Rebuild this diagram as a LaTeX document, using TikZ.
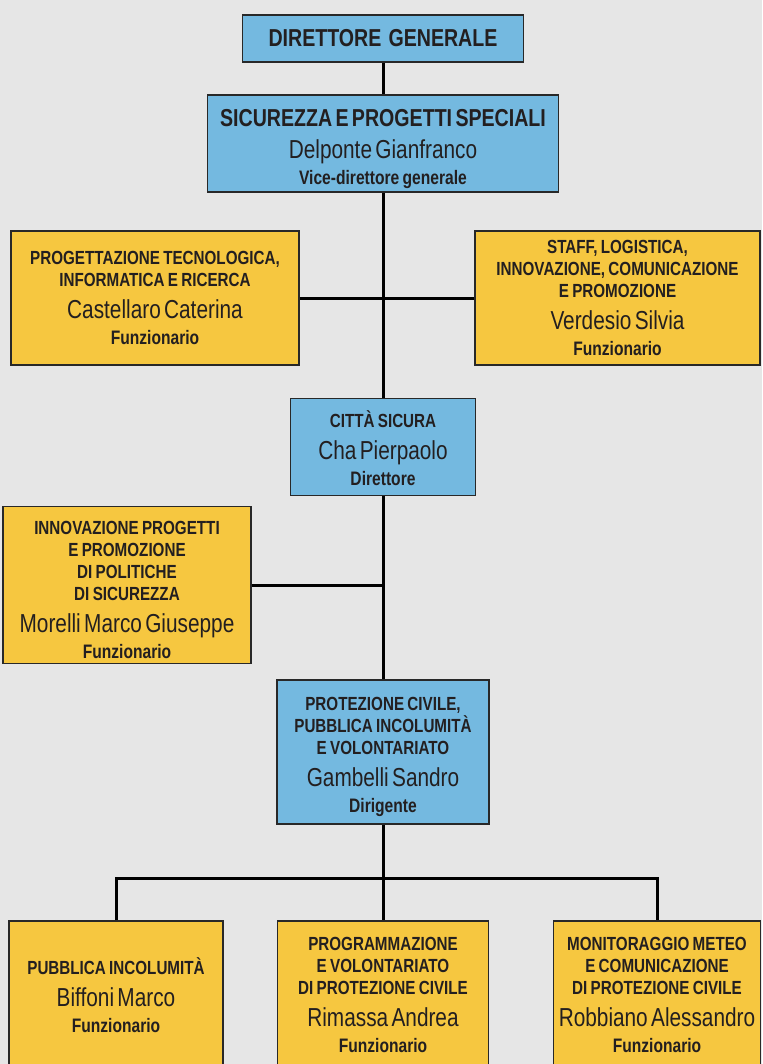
\documentclass[tikz,border=0pt]{standalone}
\usepackage{fontspec}
\setmainfont{Liberation Sans}[FakeStretch=0.8, WordSpace=1.3]

\definecolor{bggray}{RGB}{230,230,230}
\definecolor{bluefill}{RGB}{116,185,224}
\definecolor{yellowfill}{RGB}{246,199,64}
\definecolor{boxline}{RGB}{40,40,40}
\definecolor{ink}{RGB}{35,31,32}

\newcommand{\titlef}{\bfseries\fontsize{19}{22}\selectfont}
\newcommand{\bigtitlef}{\bfseries\fontsize{24.5}{30}\selectfont}
\newcommand{\namef}{\mdseries\fontsize{26}{32}\selectfont}
\newcommand{\rolef}{\bfseries\fontsize{19.5}{26}\selectfont}
\newcommand{\orgunit}[4][0pt]{{\titlef\rule{0pt}{#1}#2\par}{\namef #3\par}{\rolef #4\par}}

\tikzset{
  box/.style={draw=boxline, line width=1.3pt, inner sep=0pt, align=center, text=ink},
  bluebox/.style={box, fill=bluefill},
  yellowbox/.style={box, fill=yellowfill},
  link/.style={line width=3pt, draw=black},
}

\begin{document}
\begin{tikzpicture}[x=1pt,y=-1pt]
  \useasboundingbox (0,0) rectangle (762,1064);
  \clip (0,0) rectangle (762,1064);
  \fill[bggray] (0,0) rectangle (762,1064);

  \node[bluebox, minimum width=281, minimum height=47] (dg) at (383,38.5)
    {\bigtitlef DIRETTORE GENERALE};
  \node[bluebox, minimum width=351, minimum height=97, text width=345pt] (sps) at (383,143.5)
    {{\bigtitlef\rule{0pt}{28pt}SICUREZZA E PROGETTI SPECIALI\par}{\namef Delponte Gianfranco\par}{\rolef Vice-direttore generale\par}};
  \node[yellowbox, minimum width=288, minimum height=134, text width=282pt] (ptir) at (155,298)
    {\orgunit{PROGETTAZIONE TECNOLOGICA,\\INFORMATICA E RICERCA}{Castellaro Caterina}{Funzionario}};
  \node[yellowbox, minimum width=285, minimum height=134, text width=279pt] (staff) at (617.5,298)
    {\orgunit{STAFF, LOGISTICA,\\INNOVAZIONE, COMUNICAZIONE\\E PROMOZIONE}{Verdesio Silvia}{Funzionario}};
  \node[bluebox, minimum width=185, minimum height=97, text width=179pt] (cs) at (383,447)
    {\orgunit[20pt]{CITTÀ SICURA}{Cha Pierpaolo}{Direttore}};
  \node[yellowbox, minimum width=248, minimum height=157, text width=244pt] (ipps) at (127,585)
    {\orgunit[23pt]{INNOVAZIONE PROGETTI\\E PROMOZIONE\\DI POLITICHE\\DI SICUREZZA}{Morelli Marco Giuseppe}{Funzionario}};
  \node[bluebox, minimum width=212, minimum height=144, text width=206pt] (pc) at (383,752)
    {\orgunit[23pt]{PROTEZIONE CIVILE,\\PUBBLICA INCOLUMITÀ\\E VOLONTARIATO}{Gambelli Sandro}{Dirigente}};
  \node[yellowbox, minimum width=214, minimum height=148, text width=208pt] (pi) at (116,995)
    {\orgunit{PUBBLICA INCOLUMITÀ}{Biffoni Marco}{Funzionario}};
  \node[yellowbox, minimum width=211, minimum height=148, text width=205pt] (pvpc) at (383,995)
    {\orgunit{PROGRAMMAZIONE\\E VOLONTARIATO\\DI PROTEZIONE CIVILE}{Rimassa Andrea}{Funzionario}};
  \node[yellowbox, minimum width=207, minimum height=148, text width=205pt] (mmcpc) at (657,995)
    {\orgunit{MONITORAGGIO METEO\\E COMUNICAZIONE\\DI PROTEZIONE CIVILE}{Robbiano Alessandro}{Funzionario}};

  \coordinate (bus) at (383,878);
  \draw[link] (dg.south) -- (sps.north);
  \draw[link] (sps.south) -- (cs.north);
  \draw[link] (ptir.east) -- (staff.west);
  \draw[link] (cs.south) -- (pc.north);
  \draw[link] (ipps.east) -- (ipps.east -| cs.south);
  \draw[link] (pc.south) -- (pvpc.north);
  \draw[link] (pi.north) |- (bus) -| (mmcpc.north);
\end{tikzpicture}
\end{document}
